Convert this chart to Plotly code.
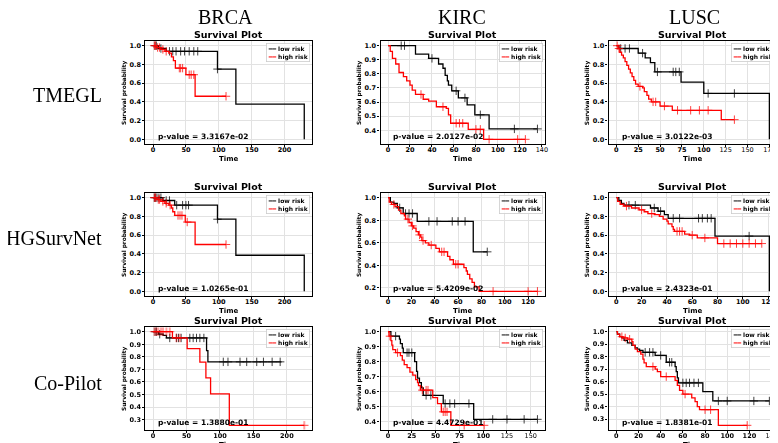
import numpy as np
import plotly.graph_objects as go

# ---------------- labels ----------------
COL_NAMES = ["BRCA", "KIRC", "LUSC"]
ROW_NAMES = ["TMEGL", "HGSurvNet", "Co-Pilot"]
P_VALUES = [
    ["3.3167e-02", "2.0127e-02", "3.0122e-03"],
    ["1.0265e-01", "5.4209e-02", "2.4323e-01"],
    ["1.3880e-01", "4.4729e-01", "1.8381e-01"],
]
X_DTICK = [[50, 20, 25], [50, 20, 20], [50, 25, 20]]
Y_DTICK = [[0.2, 0.1, 0.2], [0.2, 0.2, 0.2], [0.1, 0.1, 0.1]]
# x tick labels drawn in normal (not bold) weight in the source image
LIGHT_XTICKS = [[[], [140], [125, 150, 175]], [[], [], []], [[], [125, 150], [140]]]

# ---------------- data: BRCA ----------------
BRCA_TMEGL_LOW_T = [0, 8, 20, 98, 126, 230]
BRCA_TMEGL_LOW_S = [1.0, 0.97, 0.94, 0.75, 0.375, 0.0]
BRCA_TMEGL_LOW_END = 230
BRCA_TMEGL_LOW_C = [3, 5, 12, 25, 30, 35, 42, 48, 55, 62, 68, 98]
BRCA_TMEGL_HIGH_T = [0, 5, 12, 18, 24, 28, 31, 34, 50, 64]
BRCA_TMEGL_HIGH_S = [1.0, 0.98, 0.96, 0.94, 0.92, 0.88, 0.84, 0.76, 0.69, 0.46]
BRCA_TMEGL_HIGH_END = 111
BRCA_TMEGL_HIGH_C = [2, 4, 7, 10, 15, 20, 40, 42, 45, 55, 58, 62, 111]

BRCA_HG_LOW_T = [0, 15, 33, 98, 126, 230]
BRCA_HG_LOW_S = [1.0, 0.97, 0.92, 0.77, 0.385, 0.0]
BRCA_HG_LOW_END = 230
BRCA_HG_LOW_C = [2, 4, 6, 9, 12, 20, 25, 36, 45, 50, 54, 98]
BRCA_HG_HIGH_T = [0, 6, 12, 18, 24, 28, 30, 33, 49, 64]
BRCA_HG_HIGH_S = [1.0, 0.98, 0.96, 0.94, 0.92, 0.89, 0.85, 0.81, 0.74, 0.50]
BRCA_HG_HIGH_END = 111
BRCA_HG_HIGH_C = [2, 4, 8, 10, 15, 20, 26, 38, 41, 44, 52, 111]

BRCA_CP_LOW_T = [0, 8, 15, 20, 80, 82]
BRCA_CP_LOW_S = [1.0, 0.98, 0.97, 0.95, 0.85, 0.76]
BRCA_CP_LOW_END = 192
BRCA_CP_LOW_C = [3, 5, 10, 25, 35, 38, 42, 55, 60, 65, 70, 76, 105, 112, 130, 140, 155, 165, 178, 190]
BRCA_CP_HIGH_T = [0, 29, 51, 70, 79, 86, 114]
BRCA_CP_HIGH_S = [1.0, 0.95, 0.865, 0.757, 0.633, 0.505, 0.255]
BRCA_CP_HIGH_END = 226
BRCA_CP_HIGH_C = [2, 5, 8, 12, 15, 20, 25, 35, 40, 226]

# ---------------- data: KIRC ----------------
KIRC_TMEGL_LOW_T = [0, 25, 37, 46, 50, 52, 54, 55, 58, 64, 72, 79, 92]
KIRC_TMEGL_LOW_S = [1.0, 0.94, 0.91, 0.87, 0.84, 0.79, 0.75, 0.72, 0.68, 0.63, 0.58, 0.51, 0.41]
KIRC_TMEGL_LOW_END = 136
KIRC_TMEGL_LOW_C = [12, 15, 40, 62, 70, 84, 115, 136]
KIRC_TMEGL_HIGH_T = [0, 2, 4, 7, 10, 14, 17, 20, 22, 25, 32, 37, 44, 53, 55, 57, 73, 87]
KIRC_TMEGL_HIGH_S = [1.0, 0.96, 0.91, 0.87, 0.81, 0.78, 0.75, 0.72, 0.685, 0.654, 0.62, 0.607,
                     0.567, 0.555, 0.51, 0.45, 0.407, 0.336]
KIRC_TMEGL_HIGH_END = 125
KIRC_TMEGL_HIGH_C = [30, 50, 62, 65, 68, 80, 84, 92, 118, 125]

KIRC_HG_LOW_T = [0, 2, 5, 8, 13, 25, 73]
KIRC_HG_LOW_S = [1.0, 0.96, 0.95, 0.91, 0.86, 0.79, 0.52]
KIRC_HG_LOW_END = 85
KIRC_HG_LOW_C = [10, 15, 18, 21, 35, 42, 55, 60, 66, 85]
KIRC_HG_HIGH_T = [0, 1, 3, 6, 9, 11, 14, 15, 18, 20, 22, 24, 26, 28, 29, 32, 35, 41, 44, 51,
                  53, 56, 65, 67, 68, 70, 72, 74, 78]
KIRC_HG_HIGH_S = [1.0, 0.96, 0.94, 0.92, 0.89, 0.86, 0.84, 0.81, 0.78, 0.75, 0.73, 0.70, 0.67,
                  0.65, 0.62, 0.60, 0.58, 0.55, 0.52, 0.48, 0.45, 0.41, 0.38, 0.35, 0.32, 0.28,
                  0.25, 0.21, 0.17]
KIRC_HG_HIGH_END = 128
KIRC_HG_HIGH_C = [5, 17, 21, 27, 30, 37, 46, 48, 58, 60, 90, 120, 128]

KIRC_CP_LOW_T = [0, 3, 12, 13, 15, 16, 28, 30, 31, 33, 35, 37, 58, 90]
KIRC_CP_LOW_S = [1.0, 0.97, 0.95, 0.92, 0.89, 0.86, 0.80, 0.735, 0.69, 0.66, 0.625, 0.575, 0.52, 0.415]
KIRC_CP_LOW_END = 157
KIRC_CP_LOW_C = [8, 20, 22, 25, 40, 45, 60, 65, 70, 85, 110, 125, 143, 157]
KIRC_CP_HIGH_T = [0, 1, 3, 4, 5, 8, 13, 15, 17, 20, 23, 26, 29, 31, 32, 34, 47, 52, 56, 66]
KIRC_CP_HIGH_S = [1.0, 0.97, 0.94, 0.91, 0.88, 0.86, 0.84, 0.81, 0.78, 0.76, 0.73, 0.71, 0.68,
                  0.66, 0.64, 0.61, 0.56, 0.52, 0.465, 0.375]
KIRC_CP_HIGH_END = 101
KIRC_CP_HIGH_C = [2, 10, 36, 40, 42, 58, 60, 62, 80, 101]

# ---------------- data: LUSC ----------------
LUSC_TMEGL_LOW_T = [0, 3, 25, 33, 39, 44, 74, 100, 175]
LUSC_TMEGL_LOW_S = [1.0, 0.97, 0.92, 0.87, 0.82, 0.72, 0.61, 0.49, 0.0]
LUSC_TMEGL_LOW_END = 175
LUSC_TMEGL_LOW_C = [5, 10, 15, 30, 47, 65, 68, 72, 105, 135]
LUSC_TMEGL_HIGH_T = [0, 2, 4, 6, 8, 10, 12, 14, 16, 18, 20, 22, 25, 30, 32, 35, 37, 40, 50, 64, 120]
LUSC_TMEGL_HIGH_S = [1.0, 0.97, 0.93, 0.90, 0.87, 0.83, 0.79, 0.75, 0.71, 0.67, 0.63, 0.59, 0.565,
                     0.55, 0.51, 0.47, 0.43, 0.40, 0.355, 0.31, 0.21]
LUSC_TMEGL_HIGH_END = 135
LUSC_TMEGL_HIGH_C = [1, 3, 27, 42, 45, 55, 70, 85, 95, 105, 135]

LUSC_HG_LOW_T = [0, 2, 4, 6, 27, 33, 38, 41, 78, 121]
LUSC_HG_LOW_S = [1.0, 0.97, 0.94, 0.92, 0.89, 0.855, 0.82, 0.78, 0.59, 0.0]
LUSC_HG_LOW_END = 121
LUSC_HG_LOW_C = [10, 15, 30, 35, 45, 50, 65, 68, 72, 75, 105]
LUSC_HG_HIGH_T = [0, 1, 3, 6, 12, 18, 22, 25, 30, 34, 37, 40, 41, 44, 45, 46, 54, 58, 64, 80]
LUSC_HG_HIGH_S = [1.0, 0.96, 0.93, 0.91, 0.89, 0.87, 0.85, 0.83, 0.82, 0.80, 0.77, 0.75, 0.72,
                  0.69, 0.66, 0.64, 0.61, 0.60, 0.57, 0.51]
LUSC_HG_HIGH_END = 115
LUSC_HG_HIGH_C = [8, 20, 28, 48, 50, 52, 60, 70, 85, 90, 95, 100, 105, 110, 115]

LUSC_CP_LOW_T = [0, 1, 3, 5, 7, 10, 14, 17, 19, 21, 24, 35, 45, 53, 54, 55, 56, 78, 87]
LUSC_CP_LOW_S = [1.0, 0.98, 0.96, 0.95, 0.93, 0.91, 0.89, 0.87, 0.86, 0.85, 0.835, 0.81, 0.755,
                 0.72, 0.68, 0.63, 0.59, 0.52, 0.445]
LUSC_CP_LOW_END = 138
LUSC_CP_LOW_C = [26, 30, 33, 40, 48, 50, 60, 63, 66, 70, 74, 92, 100, 124, 138]
LUSC_CP_HIGH_T = [0, 1, 3, 6, 10, 14, 15, 17, 19, 22, 24, 25, 27, 35, 37, 40, 53, 55, 57, 60,
                  68, 71, 73, 75, 92]
LUSC_CP_HIGH_S = [1.0, 0.98, 0.96, 0.95, 0.94, 0.92, 0.89, 0.86, 0.84, 0.82, 0.78, 0.75, 0.72,
                  0.70, 0.68, 0.64, 0.61, 0.57, 0.53, 0.50, 0.47, 0.44, 0.40, 0.375, 0.25]
LUSC_CP_HIGH_END = 118
LUSC_CP_HIGH_C = [5, 8, 12, 33, 45, 62, 80, 85, 118]

PANELS = [
    [
        ((BRCA_TMEGL_LOW_T, BRCA_TMEGL_LOW_S, BRCA_TMEGL_LOW_END, BRCA_TMEGL_LOW_C),
         (BRCA_TMEGL_HIGH_T, BRCA_TMEGL_HIGH_S, BRCA_TMEGL_HIGH_END, BRCA_TMEGL_HIGH_C)),
        ((KIRC_TMEGL_LOW_T, KIRC_TMEGL_LOW_S, KIRC_TMEGL_LOW_END, KIRC_TMEGL_LOW_C),
         (KIRC_TMEGL_HIGH_T, KIRC_TMEGL_HIGH_S, KIRC_TMEGL_HIGH_END, KIRC_TMEGL_HIGH_C)),
        ((LUSC_TMEGL_LOW_T, LUSC_TMEGL_LOW_S, LUSC_TMEGL_LOW_END, LUSC_TMEGL_LOW_C),
         (LUSC_TMEGL_HIGH_T, LUSC_TMEGL_HIGH_S, LUSC_TMEGL_HIGH_END, LUSC_TMEGL_HIGH_C)),
    ],
    [
        ((BRCA_HG_LOW_T, BRCA_HG_LOW_S, BRCA_HG_LOW_END, BRCA_HG_LOW_C),
         (BRCA_HG_HIGH_T, BRCA_HG_HIGH_S, BRCA_HG_HIGH_END, BRCA_HG_HIGH_C)),
        ((KIRC_HG_LOW_T, KIRC_HG_LOW_S, KIRC_HG_LOW_END, KIRC_HG_LOW_C),
         (KIRC_HG_HIGH_T, KIRC_HG_HIGH_S, KIRC_HG_HIGH_END, KIRC_HG_HIGH_C)),
        ((LUSC_HG_LOW_T, LUSC_HG_LOW_S, LUSC_HG_LOW_END, LUSC_HG_LOW_C),
         (LUSC_HG_HIGH_T, LUSC_HG_HIGH_S, LUSC_HG_HIGH_END, LUSC_HG_HIGH_C)),
    ],
    [
        ((BRCA_CP_LOW_T, BRCA_CP_LOW_S, BRCA_CP_LOW_END, BRCA_CP_LOW_C),
         (BRCA_CP_HIGH_T, BRCA_CP_HIGH_S, BRCA_CP_HIGH_END, BRCA_CP_HIGH_C)),
        ((KIRC_CP_LOW_T, KIRC_CP_LOW_S, KIRC_CP_LOW_END, KIRC_CP_LOW_C),
         (KIRC_CP_HIGH_T, KIRC_CP_HIGH_S, KIRC_CP_HIGH_END, KIRC_CP_HIGH_C)),
        ((LUSC_CP_LOW_T, LUSC_CP_LOW_S, LUSC_CP_LOW_END, LUSC_CP_LOW_C),
         (LUSC_CP_HIGH_T, LUSC_CP_HIGH_S, LUSC_CP_HIGH_END, LUSC_CP_HIGH_C)),
    ],
]

# ---------------- layout geometry (window pixels) ----------------
W, H = 778, 443
OFF = 8  # the page body adds an 8px margin around the figure
X_PX = [(146, 313), (382, 547), (611, 780)]
Y_PX = [(41, 144), (193, 296), (327, 430)]
GROUP_COLORS = ["#000000", "#ff0000"]
FONT = "DejaVu Sans"


def px_x(v):
    return (v - OFF) / W


def px_y(v):
    return 1 - (v - OFF) / H


fig = go.Figure()
layout = dict(
    width=W, height=H, margin=dict(l=0, r=0, t=0, b=0),
    paper_bgcolor="white", plot_bgcolor="white", showlegend=False,
)
annotations = []

for r in range(3):
    for c in range(3):
        k = r * 3 + c + 1
        xa = "x" if k == 1 else f"x{k}"
        ya = "y" if k == 1 else f"y{k}"
        groups = PANELS[r][c]
        xmax = max(g[2] for g in groups)
        ymin = min(min(g[1]) for g in groups)
        ypad = 0.05 * (1.0 - ymin)
        for gi, (t, s, end, cens) in enumerate(groups):
            col = GROUP_COLORS[gi]
            fig.add_trace(go.Scatter(
                x=list(t) + [end], y=list(s) + [s[-1]], xaxis=xa, yaxis=ya,
                mode="lines", line=dict(color=col, width=1.3, shape="hv"),
                hoverinfo="skip"))
            ta = np.array(t, dtype=float)
            sa = np.array(s, dtype=float)
            idx = np.searchsorted(ta, np.array(cens, dtype=float), side="right") - 1
            fig.add_trace(go.Scatter(
                x=cens, y=sa[idx], xaxis=xa, yaxis=ya, mode="markers",
                marker=dict(symbol="cross-thin-open", size=6,
                            line=dict(color=col, width=1.0), color=col),
                opacity=0.75, hoverinfo="skip"))
        x0, x1 = X_PX[c]
        yt, yb = Y_PX[r]
        common = dict(showline=True, linecolor="black", linewidth=1.4, mirror=True,
                      showgrid=True, gridcolor="#e2e2e2", gridwidth=0.8,
                      zeroline=False, ticks="outside", ticklen=2, tickwidth=0.8,
                      tickcolor="black")
        bold_font = dict(family=FONT, size=6.5, color="black", weight="bold")
        xlo, xhi = -0.05 * xmax, 1.05 * xmax
        xticks = np.arange(0, xhi + 1e-9, X_DTICK[r][c])
        xtext = [f"{int(v)}" if int(v) in LIGHT_XTICKS[r][c] else f"<b>{int(v)}</b>"
                 for v in xticks]
        layout["xaxis" if k == 1 else f"xaxis{k}"] = dict(
            domain=[px_x(x0), px_x(x1)], anchor=ya, range=[xlo, xhi],
            tickmode="array", tickvals=list(xticks), ticktext=xtext,
            ticklabelstandoff=-3,
            tickfont=dict(family=FONT, size=6.5, color="black"), **common)
        layout["yaxis" if k == 1 else f"yaxis{k}"] = dict(
            domain=[px_y(yb), px_y(yt)], anchor=xa,
            range=[ymin - ypad, 1.0 + ypad], tick0=0, dtick=Y_DTICK[r][c],
            tickformat=".1f", tickfont=bold_font, **common)
        xd, yd = f"{xa} domain", f"{ya} domain"
        annotations += [
            dict(text="Survival Plot", xref=xd, yref=yd, x=0.5, y=1.0,
                 xanchor="center", yanchor="bottom", yshift=-1, showarrow=False,
                 font=dict(family=FONT, size=9.5, color="black", weight="bold")),
            dict(text="Time", xref=xd, yref=yd, x=0.5, y=0.0,
                 xanchor="center", yanchor="top", yshift=-9, showarrow=False,
                 font=dict(family=FONT, size=7, color="black", weight="bold")),
            dict(text="Survival probability", xref=xd, yref=yd, x=0.0, y=0.5,
                 xanchor="center", yanchor="middle", xshift=-21, textangle=-90,
                 showarrow=False,
                 font=dict(family=FONT, size=5.8, color="black", weight="bold")),
            dict(text="p-value = " + P_VALUES[r][c], xref=xd, yref=yd, x=0.065, y=0.07,
                 xanchor="left", yanchor="middle", showarrow=False,
                 font=dict(family=FONT, size=7.5, color="black", weight="bold")),
            dict(text="<span style='color:#000000'>━━</span> low risk<br>"
                      "<span style='color:#ff0000'>━━</span> high risk",
                 xref=xd, yref=yd, x=1.0, y=1.0, xanchor="right", yanchor="top",
                 xshift=-2, yshift=-2, align="left", showarrow=False,
                 bgcolor="rgba(255,255,255,0.85)", bordercolor="#cccccc",
                 borderwidth=0.8, borderpad=1,
                 font=dict(family=FONT, size=6, color="black", weight="bold")),
        ]

COL_CENTERS_PX = [226, 464, 697]
ROW_CENTERS_PX = [95, 238, 383]
for c, name in enumerate(COL_NAMES):
    annotations.append(dict(text=name, xref="paper", yref="paper",
                            x=px_x(COL_CENTERS_PX[c]), y=px_y(17),
                            xanchor="center", yanchor="middle", showarrow=False,
                            font=dict(family="Liberation Serif", size=20, color="black")))
for r, name in enumerate(ROW_NAMES):
    annotations.append(dict(text=name, xref="paper", yref="paper",
                            x=px_x(104), y=px_y(ROW_CENTERS_PX[r]),
                            xanchor="right", yanchor="middle", showarrow=False,
                            font=dict(family="Liberation Serif", size=20, color="black")))

layout["annotations"] = annotations
fig.update_layout(**layout)
fig.write_html("out.html")
